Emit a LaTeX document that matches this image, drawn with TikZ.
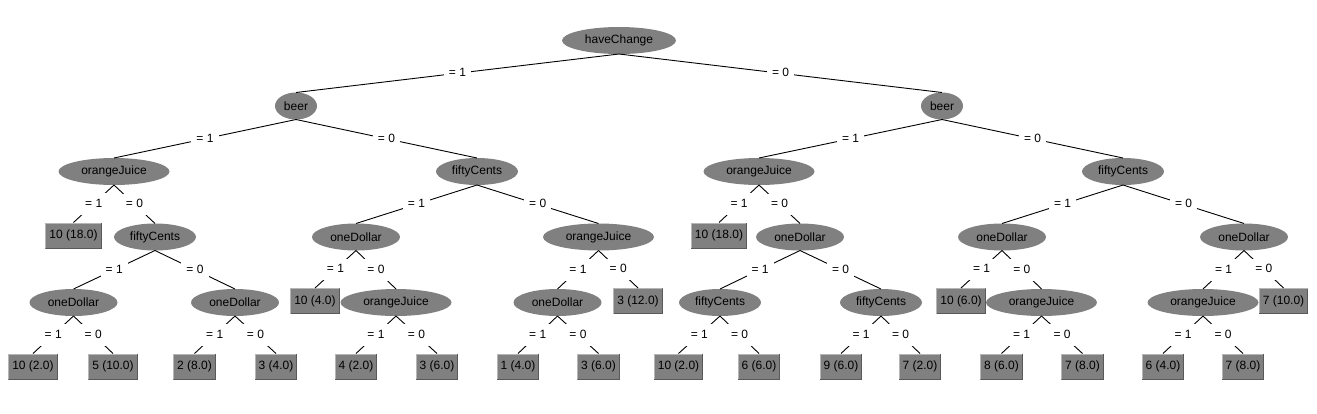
\documentclass[tikz,border=0pt]{standalone}
\usepackage{fontspec}
\setmainfont{Liberation Sans}
\usetikzlibrary{shapes.geometric}
\definecolor{nodegray}{RGB}{128,128,128}
\definecolor{lightedge}{RGB}{182,182,182}
\definecolor{darkedge}{RGB}{89,89,89}
\tikzset{
  base/.style={font=\fontsize{12pt}{14pt}\selectfont, text=black, outer sep=0pt},
  split/.style={base, ellipse, fill=nodegray, inner sep=0pt, minimum height=27pt},
  wHC/.style={split, minimum width=114pt},
  wBE/.style={split, minimum width=42pt},
  wOJ/.style={split, minimum width=111pt},
  wFC/.style={split, minimum width=82pt},
  wOD/.style={split, minimum width=88pt},
  leaf/.style={base, rectangle, fill=nodegray, inner xsep=4pt, inner ysep=0pt, minimum height=26pt},
  lbl/.style={base, fill=white, inner xsep=5pt, inner ysep=5pt, text height=9pt, text depth=2.5pt},
  conn/.style={draw=black, line width=0.9pt}
}
\begin{document}
\begin{tikzpicture}[x=1pt,y=-1pt]
\useasboundingbox (0,0) rectangle (1317,413);
% level 0-2
\node[wHC] (root) at (619,40.5) {haveChange};
\node[wBE] (b1) at (296,106) {beer};
\node[wBE] (b2) at (942,106) {beer};
\node[wOJ] (oj1) at (114,171.5) {orangeJuice};
\node[wFC] (fc1) at (477,171.5) {fiftyCents};
\node[wOJ] (oj2) at (759,171.5) {orangeJuice};
\node[wFC] (fc2) at (1123,171.5) {fiftyCents};
% level 3
\node[leaf] (l1) at (73.5,235.5) {10 (18.0)};
\node[wFC] (fc3) at (155,237) {fiftyCents};
\node[wOD] (od1) at (356,237) {oneDollar};
\node[wOJ] (oj3) at (598.5,237) {orangeJuice};
\node[leaf] (l2) at (719,235.5) {10 (18.0)};
\node[wOD] (od2) at (800,237) {oneDollar};
\node[wOD] (od3) at (1002,237) {oneDollar};
\node[wOD] (od4) at (1244,237) {oneDollar};
% level 4
\node[wOD] (od5) at (73.5,302.5) {oneDollar};
\node[wOD] (od6) at (235,302.5) {oneDollar};
\node[leaf] (l3) at (315,301) {10 (4.0)};
\node[wOJ] (oj4) at (396,302.5) {orangeJuice};
\node[wOD] (od7) at (557.5,302.5) {oneDollar};
\node[leaf] (l4) at (638,301) {3 (12.0)};
\node[wFC] (fc4) at (720,302.5) {fiftyCents};
\node[wFC] (fc5) at (881,302.5) {fiftyCents};
\node[leaf] (l5) at (961,301) {10 (6.0)};
\node[wOJ] (oj5) at (1041.5,302.5) {orangeJuice};
\node[wOJ] (oj6) at (1203,302.5) {orangeJuice};
\node[leaf] (l6) at (1283.5,301) {7 (10.0)};
% level 5
\node[leaf] (a1) at (33,366.5) {10 (2.0)};
\node[leaf] (a2) at (113,366.5) {5 (10.0)};
\node[leaf] (a3) at (194.5,366.5) {2 (8.0)};
\node[leaf] (a4) at (276,366.5) {3 (4.0)};
\node[leaf] (a5) at (356,366.5) {4 (2.0)};
\node[leaf] (a6) at (437,366.5) {3 (6.0)};
\node[leaf] (a7) at (518,366.5) {1 (4.0)};
\node[leaf] (a8) at (598.5,366.5) {3 (6.0)};
\node[leaf] (a9) at (678.5,366.5) {10 (2.0)};
\node[leaf] (a10) at (759,366.5) {6 (6.0)};
\node[leaf] (a11) at (841,366.5) {9 (6.0)};
\node[leaf] (a12) at (920,366.5) {7 (2.0)};
\node[leaf] (a13) at (1001.5,366.5) {8 (6.0)};
\node[leaf] (a14) at (1082.5,366.5) {7 (8.0)};
\node[leaf] (a15) at (1163,366.5) {6 (4.0)};
\node[leaf] (a16) at (1243,366.5) {7 (8.0)};
% raised borders of leaves
\foreach \n in {l1,l2,l3,l4,l5,l6,a1,a2,a3,a4,a5,a6,a7,a8,a9,a10,a11,a12,a13,a14,a15,a16}{
  \draw[lightedge, line width=1pt] ([shift={(0.5,-0.5)}]\n.south west) -- ([shift={(0.5,0.5)}]\n.north west) -- ([shift={(-0.5,0.5)}]\n.north east);
  \draw[darkedge, line width=1pt] ([shift={(-0.5,0.5)}]\n.north east) -- ([shift={(-0.5,-0.5)}]\n.south east) -- ([shift={(0.5,-0.5)}]\n.south west);
}
% connectors
\foreach \p/\c/\v in {root/b1/1, root/b2/0,
  b1/oj1/1, b1/fc1/0, b2/oj2/1, b2/fc2/0,
  oj1/l1/1, oj1/fc3/0, fc1/od1/1, fc1/oj3/0,
  oj2/l2/1, oj2/od2/0, fc2/od3/1, fc2/od4/0,
  fc3/od5/1, fc3/od6/0, od1/l3/1, od1/oj4/0,
  oj3/od7/1, oj3/l4/0, od2/fc4/1, od2/fc5/0,
  od3/l5/1, od3/oj5/0, od4/oj6/1, od4/l6/0,
  od5/a1/1, od5/a2/0, od6/a3/1, od6/a4/0,
  oj4/a5/1, oj4/a6/0, od7/a7/1, od7/a8/0,
  fc4/a9/1, fc4/a10/0, fc5/a11/1, fc5/a12/0,
  oj5/a13/1, oj5/a14/0, oj6/a15/1, oj6/a16/0}{
  \draw[conn] (\p.south) -- node[lbl] {= \v} (\c.north);
}
\end{tikzpicture}
\end{document}
